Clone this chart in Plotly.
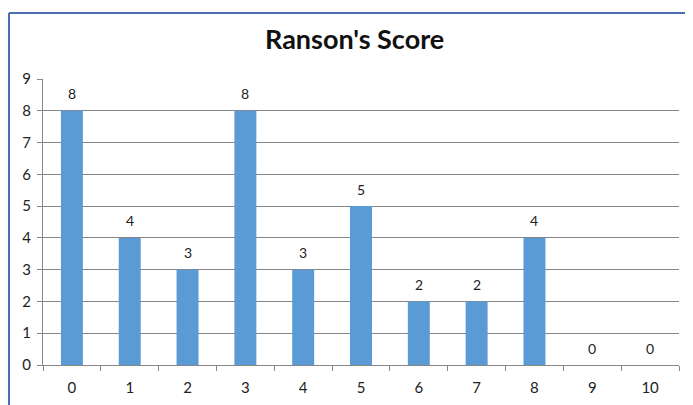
import plotly.graph_objects as go

categories = ["0", "1", "2", "3", "4", "5", "6", "7", "8", "9", "10"]
counts = [8, 4, 3, 8, 3, 5, 2, 2, 4, 0, 0]
y_ticks = [0, 1, 2, 3, 4, 5, 6, 7, 8, 9]

FONT = "Lato"
W, H = 685, 397  # page body has an 8px margin
L, R, T, B = 35, 14, 71, 40
PW, PH = W - L - R, H - T - B

fig = go.Figure(
    go.Bar(
        x=categories,
        y=counts,
        width=0.38,
        marker=dict(color="#5B9BD5", line=dict(width=0)),
    )
)

# value labels above bars
for c, v in zip(categories, counts):
    fig.add_annotation(x=c, y=v, text=str(v), showarrow=False,
                       yshift=17, xref="x", yref="y",
                       font=dict(family=FONT, size=14, color="#222222"))

fig.update_layout(
    width=W,
    height=H,
    margin=dict(l=L, r=R, t=T, b=B, autoexpand=False),
    paper_bgcolor="white",
    plot_bgcolor="white",
    showlegend=False,
    title=dict(
        text="<b>Ranson's Score</b>",
        font=dict(family=FONT, size=27, color="#111111"),
        x=0.49,
        xref="paper",
        xanchor="center",
        y=1 - 32 / H,
        yanchor="middle",
    ),
    font=dict(family=FONT, size=15, color="#222222"),
    xaxis=dict(
        type="category",
        automargin=False,
        showgrid=False,
        showline=True,
        linecolor="#868686",
        linewidth=1,
        ticks="outside",
        tickson="boundaries",
        ticklen=5,
        tickcolor="#868686",
        ticklabelstandoff=9,
        tickfont=dict(family=FONT, size=15, color="#222222"),
        fixedrange=True,
    ),
    yaxis=dict(
        automargin=False,
        range=[0, 9],
        tickvals=y_ticks,
        showgrid=True,
        gridcolor="#868686",
        gridwidth=1,
        showline=True,
        linecolor="#868686",
        linewidth=1,
        ticks="outside",
        ticklen=5,
        tickcolor="#868686",
        ticklabelstandoff=3,
        zeroline=False,
        tickfont=dict(family=FONT, size=15, color="#222222"),
        fixedrange=True,
    ),
)

# chart frame (top and left edges visible in the reference)
fx = (1 - L) / PW
fy = 1 + (T - 5) / PH
fig.add_shape(type="line", xref="paper", yref="paper",
              x0=fx, x1=1 + R / PW, y0=fy, y1=fy,
              line=dict(color="#4A6EB0", width=2))
fig.add_shape(type="line", xref="paper", yref="paper",
              x0=fx, x1=fx, y0=fy, y1=-B / PH,
              line=dict(color="#4A6EB0", width=2))

fig.write_html("out.html")
